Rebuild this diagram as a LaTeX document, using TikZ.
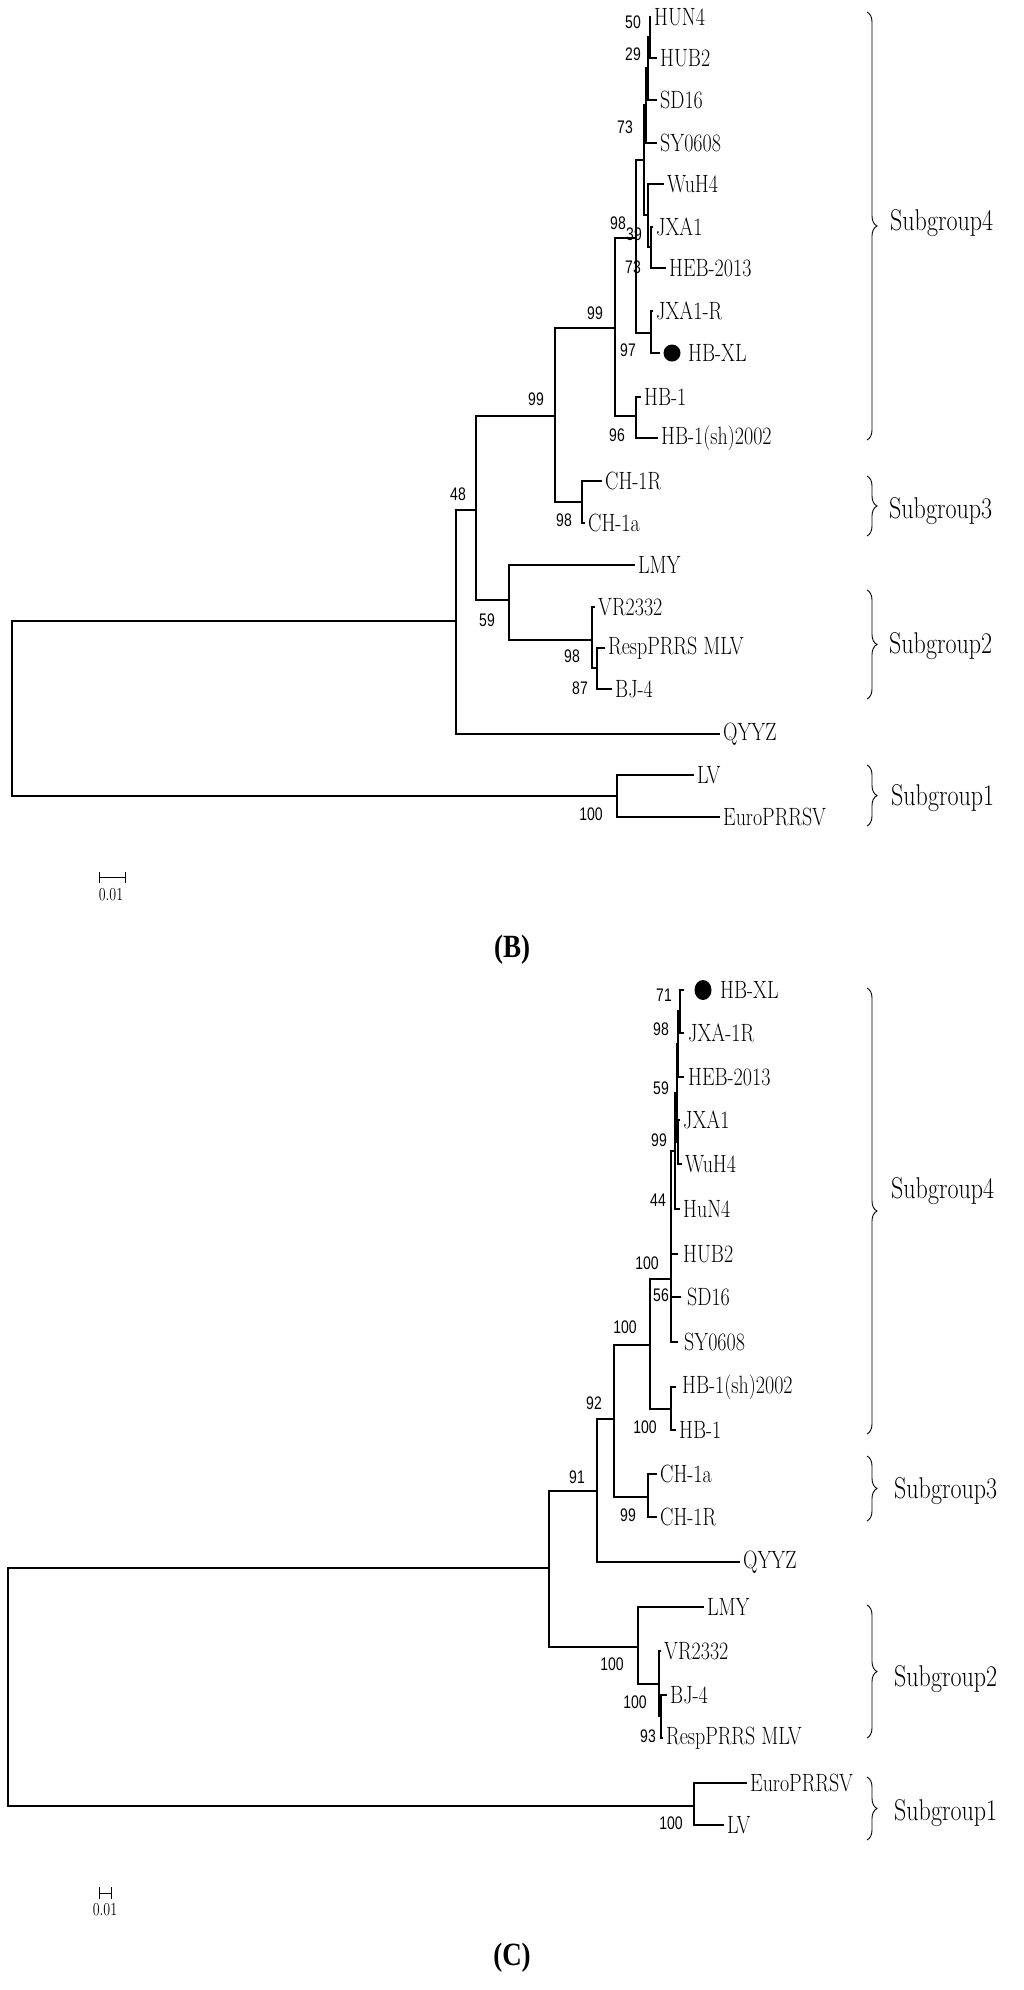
\documentclass[tikz,border=0pt]{standalone}
\usepackage{fontspec}
\newfontfamily\bsf{Liberation Sans}
\newfontfamily\tsf{Liberation Serif}
\usetikzlibrary{decorations.pathreplacing}
\begin{document}
\begin{tikzpicture}[x=1pt,y=-1pt,
  br/.style={line width=1.3pt,line join=miter},
  leaf/.style={anchor=west,inner sep=0pt,font=\fontsize{20}{20}\selectfont,yscale=1.25,transform shape},
  bs/.style={inner sep=0pt,font=\bsf\fontsize{14}{14}\selectfont,yscale=1.3,transform shape},
  grp/.style={anchor=west,inner sep=0pt,font=\fontsize{24}{24}\selectfont,yscale=1.25,transform shape},
  gbr/.style={line width=0.9pt,decorate,decoration={brace,amplitude=10pt,raise=0pt}},
  ttl/.style={inner sep=0pt,font=\tsf\fontsize{27}{27}\selectfont\bfseries,yscale=1.2,transform shape},
  sc/.style={inner sep=0pt,font=\fontsize{14}{14}\selectfont,yscale=1.3,transform shape}]
\useasboundingbox (0,0) rectangle (1024,1990);
% ================= TREE B =================
\node[leaf] (bHUN4) at (654,17) {HUN4};
\node[leaf] (bHUB2) at (660,58) {HUB2};
\node[leaf] (bSD16) at (660,100) {SD16};
\node[leaf] (bSY) at (660,143) {SY0608};
\node[leaf] (bWuH4) at (667,184) {WuH4};
\node[leaf] (bJXA1) at (656,227) {JXA1};
\node[leaf] (bHEB) at (669,268) {HEB-2013};
\node[leaf] (bJXAR) at (656,311) {JXA1-R};
\node[leaf] (bHBXL) at (688,353) {HB-XL};
\node[leaf] (bHB1) at (644,397) {HB-1};
\node[leaf] (bHBsh) at (661,438) {HB-1(sh)2002};
\node[leaf] (bCH1R) at (605,481) {CH-1R};
\node[leaf] (bCH1a) at (588,523) {CH-1a};
\node[leaf] (bLMY) at (638,565) {LMY};
\node[leaf] (bVR) at (598,607) {VR2332};
\node[leaf] (bResp) at (608,648) {RespPRRS MLV};
\node[leaf] (bBJ4) at (615,689) {BJ-4};
\node[leaf] (bQYYZ) at (723,734) {QYYZ};
\node[leaf] (bLV) at (697,775) {LV};
\node[leaf] (bEuro) at (723,817) {EuroPRRSV};
\fill (672,353) circle (8.5);
\draw[br] (456,621) -- (12,621) -- (12,796) -- (617,796);
\draw[br] (694,775) -- (617,775) -- (617,817) -- (720,817);
\draw[br] (476,510) -- (456,510) -- (456,734) -- (720,734);
\draw[br] (555,416) -- (476,416) -- (476,600) -- (509,600);
\draw[br] (635,565) -- (509,565) -- (509,640) -- (592,640);
\draw[br] (595,607) -- (592,607) -- (592,668) -- (597,668);
\draw[br] (605,648) -- (597,648) -- (597,689) -- (612,689);
\draw[br] (615,328) -- (555,328) -- (555,502) -- (582,502);
\draw[br] (602,481) -- (582,481) -- (582,523) -- (585,523);
\draw[br] (636,238) -- (615,238) -- (615,416) -- (636,416);
\draw[br] (641,397) -- (636,397) -- (636,438) -- (658,438);
\draw[br] (644,160) -- (636,160) -- (636,333) -- (651,333);
\draw[br] (653,311) -- (651,311) -- (651,353) -- (660,353);
\draw[br] (646,105) -- (644,105) -- (644,215) -- (648,215);
\draw[br] (648,68) -- (646,68) -- (646,143) -- (657,143);
\draw[br] (650,37) -- (648,37) -- (648,100) -- (657,100);
\draw[br] (651,17) -- (650,17) -- (650,58) -- (657,58);
\draw[br] (664,184) -- (648,184) -- (648,247) -- (651,247);
\draw[br] (653,227) -- (651,227) -- (651,268) -- (666,268);
\node[bs] at (633,22) {50};
\node[bs] at (633,54) {29};
\node[bs] at (625,127) {73};
\node[bs] at (618,223) {98};
\node[bs] at (634,234) {39};
\node[bs] at (633,267) {73};
\node[bs] at (595,313) {99};
\node[bs] at (628,350) {97};
\node[bs] at (536,399) {99};
\node[bs] at (617,435) {96};
\node[bs] at (458,494) {48};
\node[bs] at (564,520) {98};
\node[bs] at (487,620) {59};
\node[bs] at (572,656) {98};
\node[bs] at (580,688) {87};
\node[bs] at (591,814) {100};
\draw[gbr] (867,12) -- (867,440);
\draw[gbr] (867,476) -- (867,536);
\draw[gbr] (867,590) -- (867,699);
\draw[gbr] (867,765) -- (867,826);
\node[grp] (bg4) at (890,223) {Subgroup4};
\node[grp] (bg3) at (889,511) {Subgroup3};
\node[grp] (bg2) at (889,646) {Subgroup2};
\node[grp] (bg1) at (891,798) {Subgroup1};
\draw[line width=0.9pt] (99,872) -- (99,883) (99,877.5) -- (125,877.5) (125,872) -- (125,883);
\node[sc] (bsc) at (111,895) {0.01};
\node[ttl] (tB) at (512,950) {(B)};
% ================= TREE C =================
\node[leaf] (cHBXL) at (720,990) {HB-XL};
\node[leaf] (cJXAR) at (688,1033) {JXA-1R};
\node[leaf] (cHEB) at (688,1077) {HEB-2013};
\node[leaf] (cJXA1) at (683,1120) {JXA1};
\node[leaf] (cWuH4) at (685,1164) {WuH4};
\node[leaf] (cHuN4) at (683,1209) {HuN4};
\node[leaf] (cHUB2) at (683,1254) {HUB2};
\node[leaf] (cSD16) at (687,1297) {SD16};
\node[leaf] (cSY) at (684,1342) {SY0608};
\node[leaf] (cHBsh) at (682,1387) {HB-1(sh)2002};
\node[leaf] (cHB1) at (679,1430) {HB-1};
\node[leaf] (cCH1a) at (660,1474) {CH-1a};
\node[leaf] (cCH1R) at (660,1517) {CH-1R};
\node[leaf] (cQYYZ) at (743,1562) {QYYZ};
\node[leaf] (cLMY) at (707,1607) {LMY};
\node[leaf] (cVR) at (664,1651) {VR2332};
\node[leaf] (cBJ4) at (670,1695) {BJ-4};
\node[leaf] (cResp) at (666,1738) {RespPRRS MLV};
\node[leaf] (cEuro) at (750,1783) {EuroPRRSV};
\node[leaf] (cLV) at (727,1825) {LV};
\fill (703,990) ellipse (8.5 and 10);
\draw[br] (549,1568) -- (8,1568) -- (8,1806) -- (694,1806);
\draw[br] (747,1783) -- (694,1783) -- (694,1825) -- (724,1825);
\draw[br] (597,1491) -- (549,1491) -- (549,1647) -- (638,1647);
\draw[br] (704,1607) -- (638,1607) -- (638,1684) -- (659,1684);
\draw[br] (661,1651) -- (659,1651) -- (659,1716) -- (661,1716);
\draw[br] (667,1695) -- (661,1695) -- (661,1738) -- (663,1738);
\draw[br] (614,1419) -- (597,1419) -- (597,1562) -- (740,1562);
\draw[br] (650,1345) -- (614,1345) -- (614,1497) -- (648,1497);
\draw[br] (657,1474) -- (648,1474) -- (648,1517) -- (657,1517);
\draw[br] (671,1279) -- (650,1279) -- (650,1409) -- (671,1409);
\draw[br] (676,1387) -- (671,1387) -- (671,1430) -- (676,1430);
\draw[br] (675,1151) -- (671,1151) -- (671,1342) -- (678,1342);
\draw[br] (671,1254) -- (678,1254) (671,1297) -- (681,1297);
\draw[br] (677,1093) -- (675,1093) -- (675,1209) -- (680,1209);
\draw[br] (678,1044) -- (677,1044) -- (677,1142) -- (678,1142);
\draw[br] (680,1120) -- (678,1120) -- (678,1164) -- (682,1164);
\draw[br] (680,1011) -- (678,1011) -- (678,1077) -- (684,1077);
\draw[br] (684,990) -- (680,990) -- (680,1033) -- (684,1033);
\node[bs] at (664,995) {71};
\node[bs] at (661,1029) {98};
\node[bs] at (661,1088) {59};
\node[bs] at (659,1140) {99};
\node[bs] at (658,1200) {44};
\node[bs] at (661,1295) {56};
\node[bs] at (647,1263) {100};
\node[bs] at (625,1327) {100};
\node[bs] at (594,1403) {92};
\node[bs] at (645,1427) {100};
\node[bs] at (577,1477) {91};
\node[bs] at (628,1515) {99};
\node[bs] at (612,1664) {100};
\node[bs] at (635,1702) {100};
\node[bs] at (648,1736) {93};
\node[bs] at (671,1823) {100};
\draw[gbr] (867,988) -- (867,1434);
\draw[gbr] (867,1456) -- (867,1521);
\draw[gbr] (867,1605) -- (867,1738);
\draw[gbr] (867,1777) -- (867,1840);
\node[grp] (cg4) at (891,1191) {Subgroup4};
\node[grp] (cg3) at (894,1491) {Subgroup3};
\node[grp] (cg2) at (894,1679) {Subgroup2};
\node[grp] (cg1) at (894,1813) {Subgroup1};
\draw[line width=0.9pt] (99,1887) -- (99,1899) (99,1893) -- (111,1893) (111,1887) -- (111,1899);
\node[sc] (csc) at (105,1910) {0.01};
\node[ttl] (tC) at (512,1958) {(C)};
\end{tikzpicture}
\end{document}
